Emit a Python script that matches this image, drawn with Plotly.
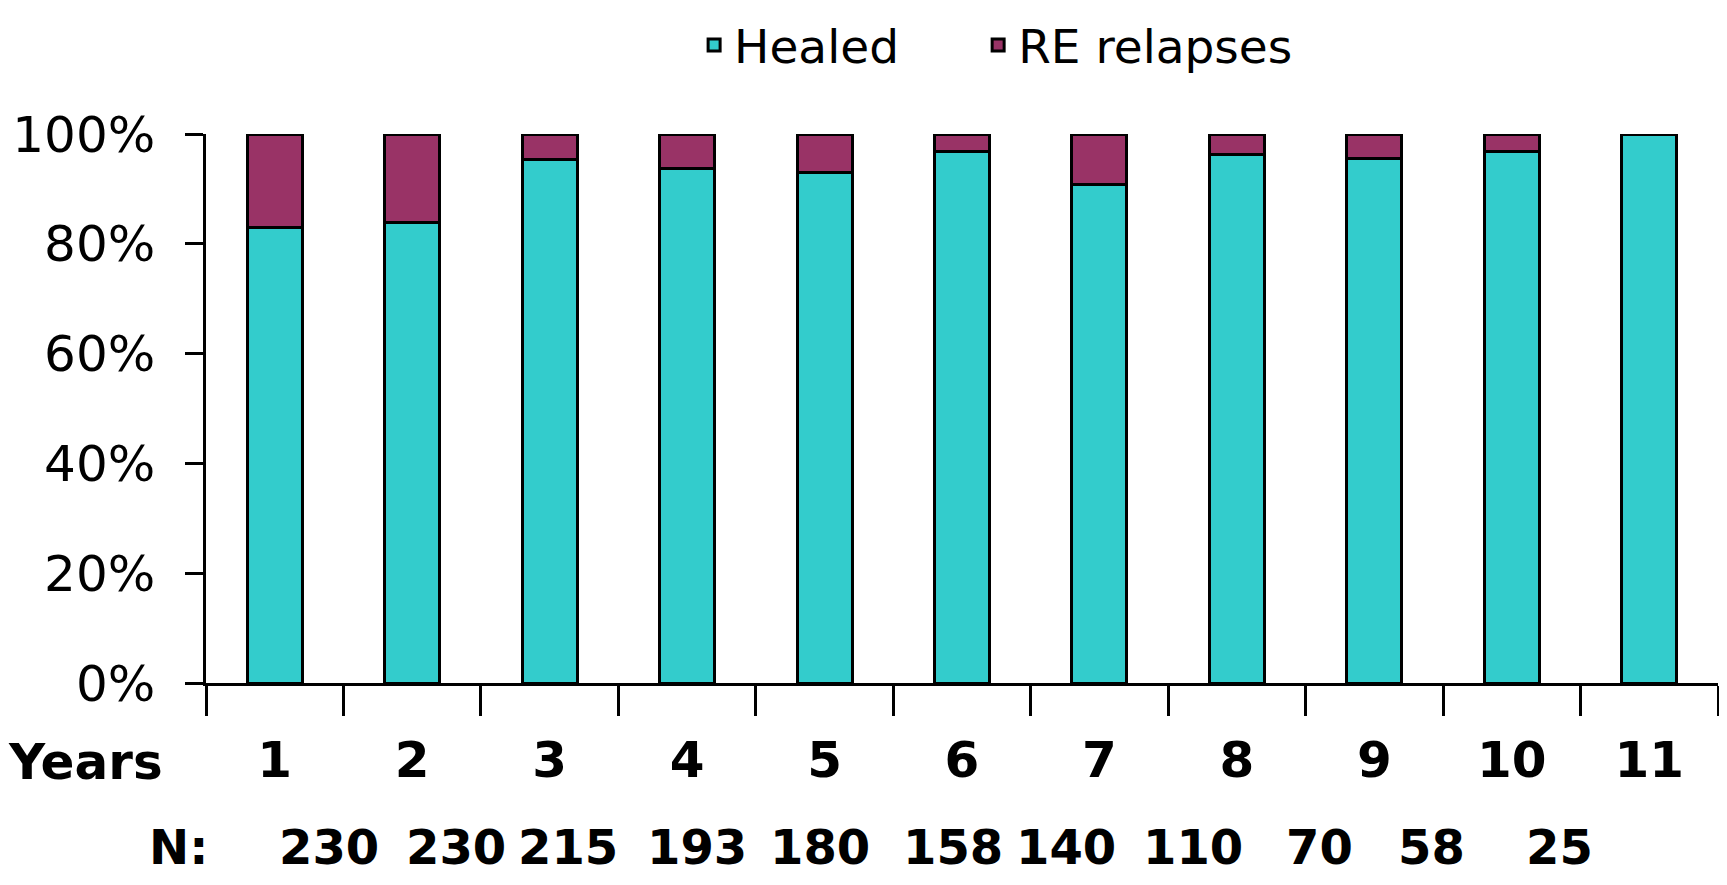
import plotly.graph_objects as go

# ---- data ----
years = [1, 2, 3, 4, 5, 6, 7, 8, 9, 10, 11]
year_labels = ["1", "2", "3", "4", "5", "6", "7", "8", "9", "10", "11"]
healed_pct = [83.0, 83.8, 95.4, 93.7, 93.0, 96.9, 90.8, 96.3, 95.6, 96.9, 100.0]
relapse_pct = [17.0, 16.2, 4.6, 6.3, 7.0, 3.1, 9.2, 3.7, 4.4, 3.1, 0.0]
n_patients = [230, 230, 215, 193, 180, 158, 140, 110, 70, 58, 25]
y_ticks = [0, 20, 40, 60, 80, 100]
y_tick_labels = ["0%", "20%", "40%", "60%", "80%", "100%"]

# ---- layout constants (positions / styles) ----
N_LABEL_X = [1.395, 2.319, 3.134, 4.072, 4.967, 5.935, 6.757, 7.681, 8.598, 9.413, 10.344]
FONT = "DejaVu Sans, Verdana, sans-serif"
TEAL = "#33CCCC"
PLUM = "#993366"

fig = go.Figure()
fig.add_trace(go.Bar(x=years, y=healed_pct, name="Healed", width=0.4, legend="legend",
                     marker=dict(color=TEAL, line=dict(color="black", width=3))))
fig.add_trace(go.Bar(x=years, y=relapse_pct, name="RE relapses", width=0.4, legend="legend2",
                     marker=dict(color=PLUM, line=dict(color="black", width=3))))

N_Y = -0.3534  # bottom edge of the figure, in paper units
annotations = [
    dict(text="Years", x=-0.132, y=-0.144, xref="paper", yref="paper",
         xanchor="left", yanchor="middle", showarrow=False,
         font=dict(family=FONT, size=50, color="black", weight="bold")),
    dict(text="N:", x=-0.018, y=N_Y, xref="paper", yref="paper",
         xanchor="center", yanchor="bottom", showarrow=False,
         font=dict(family=FONT, size=48, color="black", weight="bold")),
]
for xv, n in zip(N_LABEL_X, n_patients):
    annotations.append(dict(text=str(n), x=xv, y=N_Y, xref="x", yref="paper",
                            xanchor="center", yanchor="bottom", showarrow=False,
                            font=dict(family=FONT, size=48, color="black", weight="bold")))

legend_style = dict(orientation="h", xref="container", yref="container",
                    xanchor="left", yanchor="top", y=1.0,
                    font=dict(family=FONT, size=47, color="black"),
                    itemwidth=30, bgcolor="rgba(0,0,0,0)")

fig.update_layout(
    barmode="stack",
    width=1711, height=869,
    margin=dict(l=198, r=1, t=126, b=194, autoexpand=False),
    paper_bgcolor="white", plot_bgcolor="white",
    font=dict(family=FONT, color="black"),
    showlegend=True,
    legend=dict(x=0.401, **legend_style),
    legend2=dict(x=0.567, **legend_style),
    xaxis=dict(range=[0.5, 11.5], tickvals=years, ticktext=year_labels,
               ticks="", showline=True, linecolor="black", linewidth=2.5,
               showgrid=False, zeroline=False, ticklabelstandoff=31, automargin=False,
               tickfont=dict(family=FONT, size=50, color="black", weight="bold"),
               minor=dict(tick0=0.5, dtick=1, ticks="outside", ticklen=30,
                          tickwidth=2.5, tickcolor="black", showgrid=False)),
    yaxis=dict(range=[0, 100], tickvals=y_ticks, ticktext=y_tick_labels,
               ticks="outside", ticklen=18, tickwidth=2.5, tickcolor="black",
               showline=True, linecolor="black", linewidth=2.5,
               showgrid=False, zeroline=False, ticklabelstandoff=20, automargin=False,
               tickfont=dict(family=FONT, size=50, color="black")),
    annotations=annotations,
)

fig.write_html("out.html")
